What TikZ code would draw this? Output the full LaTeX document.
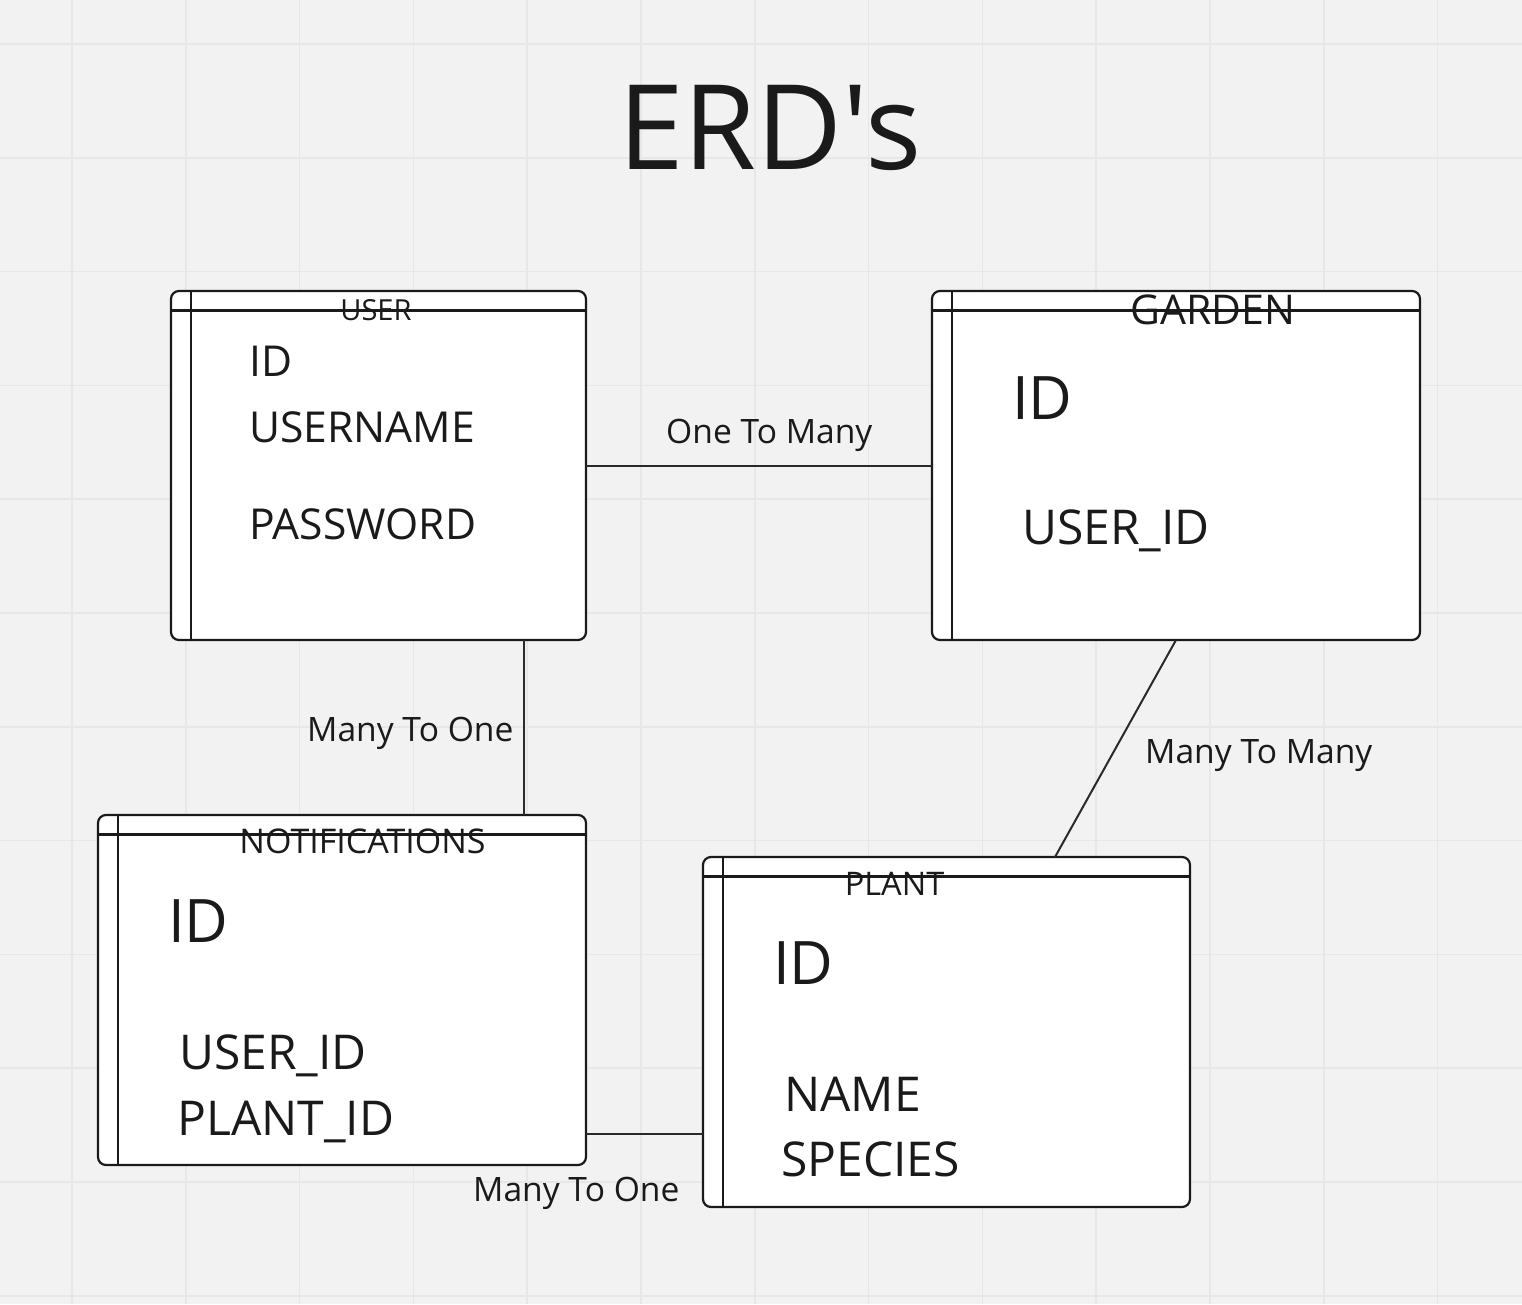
\documentclass[tikz,border=0pt]{standalone}
\usepackage{fontspec}
\setmainfont{Open Sans}
\newfontfamily\titlefont{Open Sans}[Ligatures=TeXOff]
\usetikzlibrary{calc}
\definecolor{bgc}{HTML}{F2F2F2}
\definecolor{gridc}{HTML}{E7E7E7}
\definecolor{txtc}{HTML}{1A1A1A}
\definecolor{linec}{HTML}{2A2A2A}
\newcommand{\fs}[1]{\fontsize{#1}{#1}\selectfont}
\tikzset{
  ebox/.style={draw=txtc, line width=2.2pt, fill=white, rounded corners=8pt, inner sep=0pt, outer sep=0pt, anchor=north west},
  innerline/.style={draw=txtc, line width=2.2pt},
  conn/.style={draw=linec, line width=2pt},
  lbl/.style={text=txtc, inner sep=0pt, anchor=base west, font=\fs{33.6}},
  ttl/.style={text=txtc, inner sep=0pt, anchor=base},
  attr/.style={text=txtc, inner sep=0pt, anchor=base west},
}
\begin{document}
\begin{tikzpicture}[x=1pt,y=-1pt]
\useasboundingbox (0,0) rectangle (1522,1304);
\fill[bgc] (0,0) rectangle (1522,1304);
\foreach \i in {0,...,13} \draw[gridc, line width=1.6pt] ({72+113.8*\i},0) -- ({72+113.8*\i},1304);
\foreach \i in {0,...,11} \draw[gridc, line width=1.6pt] (0,{44+113.8*\i}) -- (1522,{44+113.8*\i});

% title
\node[ttl, font=\titlefont\fs{118}] (title) at (770,169) {ERD's};

% boxes
\node[ebox, minimum width=415pt, minimum height=349pt] (user) at (171,291) {};
\node[ebox, minimum width=488pt, minimum height=349pt] (garden) at (932,291) {};
\node[ebox, minimum width=488pt, minimum height=350pt] (notif) at (98,815) {};
\node[ebox, minimum width=487pt, minimum height=350pt] (plant) at (703,857) {};

\foreach \b in {user,garden,notif,plant}{
  \draw[innerline] ($(\b.north west)+(20,0)$) -- ($(\b.south west)+(20,0)$);
  \draw[innerline] ($(\b.north west)+(0,19.5)$) -- ($(\b.north east)+(0,19.5)$);
}

% titles
\node[ttl, font=\fs{29}] (usert) at (376,320) {USER};
\node[ttl, font=\fs{41}] (gardent) at (1213,324) {GARDEN};
\node[ttl, font=\fs{34}] (notift) at (362.5,853) {NOTIFICATIONS};
\node[ttl, font=\fs{32.5}] (plantt) at (894.5,895) {PLANT};

% attributes
\node[attr, font=\fs{42.6}] (u1) at (249,376) {ID};
\node[attr, font=\fs{42.6}] (u2) at (249,442) {USERNAME};
\node[attr, font=\fs{42.6}] (u3) at (249,539) {PASSWORD};

\node[attr, font=\fs{60}] (g1) at (1012,419) {ID};
\node[attr, font=\fs{48}] (g2) at (1022,544) {USER\_ID};

\node[attr, font=\fs{60}] (n1) at (168,942) {ID};
\node[attr, font=\fs{48}] (n2) at (179,1069) {USER\_ID};
\node[attr, font=\fs{48}] (n3) at (177,1135) {PLANT\_ID};

\node[attr, font=\fs{60}] (p1) at (773,984) {ID};
\node[attr, font=\fs{48}] (p2) at (784,1111) {NAME};
\node[attr, font=\fs{48}] (p3) at (781,1176) {SPECIES};

% connectors
\draw[conn] (user) -- (garden);
\draw[conn] (user.south -| 524,0) -- (notif.north -| 524,0);
\draw[conn] (garden.south) -- ($(plant.north west)!0.7228!(plant.north east)$);
\draw[conn] (notif.east |- 0,1134) -- (plant.west |- 0,1134);

% connector labels
\node[lbl] (l1) at (666,443) {One To Many};
\node[lbl] (l2) at (307,741) {Many To One};
\node[lbl] (l3) at (1145,763) {Many To Many};
\node[lbl] (l4) at (473,1201) {Many To One};
\end{tikzpicture}
\end{document}
